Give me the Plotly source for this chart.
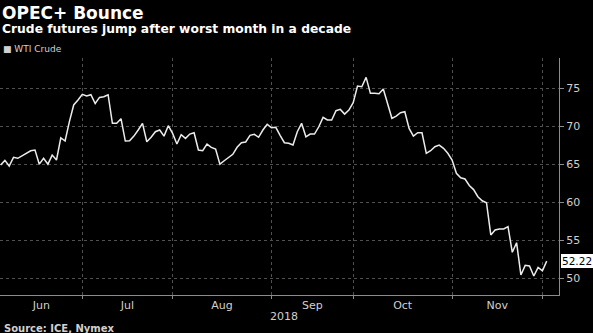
import pandas as pd
import plotly.graph_objects as go

# Trading days (NYMEX) June 4 - Dec 3, 2018
holidays = ["2018-07-04", "2018-09-03", "2018-11-22"]
dates = [d for d in pd.bdate_range("2018-06-04", "2018-12-03") if d.strftime("%Y-%m-%d") not in holidays]

wti = [64.89, 65.50, 64.76, 65.90, 65.77, 66.07, 66.40, 66.77, 66.86, 65.00,
       65.77, 65.00, 66.20, 65.55, 68.48, 68.05, 70.60, 72.80, 73.45, 74.20,
       73.98, 74.15, 73.00, 73.80, 73.89, 74.15, 70.38, 70.38, 70.99, 68.05,
       68.09, 68.70, 69.50, 70.38, 67.96, 68.54, 69.28, 69.50, 68.70, 70.07,
       69.06, 67.65, 68.88, 68.40, 68.97, 69.14, 66.86, 66.77, 67.65, 67.22,
       66.99, 65.00, 65.45, 65.90, 66.30, 67.22, 67.83, 67.92, 68.80, 68.93,
       68.54, 69.50, 70.25, 69.80, 69.85, 68.80, 67.83, 67.75, 67.52, 69.28,
       70.38, 68.60, 68.97, 68.97, 69.93, 71.17, 70.82, 70.82, 72.04, 72.22,
       71.60, 72.13, 73.10, 75.30, 75.20, 76.44, 74.33, 74.33, 74.28, 74.90,
       72.92, 71.04, 71.34, 71.78, 71.91, 69.72, 68.71, 69.14, 69.14, 66.43,
       66.77, 67.30, 67.52, 67.09, 66.43, 65.55, 63.79, 63.20, 63.05, 62.20,
       61.65, 60.71, 60.18, 59.92, 55.67, 56.32, 56.46, 56.46, 56.76, 53.39,
       54.65, 50.40, 51.67, 51.58, 50.26, 51.41, 50.96, 52.22]

month_labels = ["Jun", "Jul", "Aug", "Sep", "Oct", "Nov"]
y_ticks = [50, 55, 60, 65, 70, 75]
series_name = "WTI Crude"
last_label = "52.22"

idx = list(range(len(dates)))
months = [d.month for d in dates]
# last trading day of each month (gridlines)
month_ends = [i for i in idx[:-1] if months[i] != months[i + 1]]
bounds = [0] + month_ends
month_centers = [(bounds[k] + bounds[k + 1]) / 2 for k in range(len(bounds) - 1)]

FONT = "DejaVu Sans"
GRID = "#505050"
AXIS = "#8c8c8c"
TXT = "#d0d0d0"

fig = go.Figure()
fig.add_trace(go.Scatter(x=idx, y=wti, mode="lines", name=series_name,
                         line=dict(color="#ececec", width=1.5), showlegend=False))
# invisible trace on xaxis2 to activate gridline axis
fig.add_trace(go.Scatter(x=idx, y=wti, xaxis="x2", mode="lines",
                         line=dict(color="rgba(0,0,0,0)", width=0), showlegend=False, hoverinfo="skip"))

xr = [-0.14, 129.86]
fig.update_layout(
    width=593, height=333,
    paper_bgcolor="black", plot_bgcolor="black",
    margin=dict(l=0, r=34, t=58, b=38),
    font=dict(family=FONT, color=TXT, size=11),
    xaxis=dict(range=xr, tickvals=month_centers, ticktext=month_labels,
               showgrid=False, ticks="", zeroline=False, showline=True,
               linecolor=AXIS, linewidth=1, tickfont=dict(size=11, color=TXT)),
    xaxis2=dict(range=xr, overlaying="x", side="bottom", tickvals=month_ends,
                ticktext=["" for _ in month_ends], showgrid=True, gridcolor=GRID,
                griddash="dot", gridwidth=1, ticks="outside", ticklen=3,
                tickcolor=AXIS, zeroline=False, showline=False),
    yaxis=dict(range=[47.76, 78.99], side="right", tickvals=y_ticks,
               showgrid=True, gridcolor=GRID, griddash="dot", gridwidth=1,
               ticks="outside", ticklen=4, tickcolor=AXIS, showline=True,
               linecolor=AXIS, linewidth=1, zeroline=False,
               tickfont=dict(size=11, color=TXT)),
    showlegend=False,
)

fig.add_annotation(text="<b>OPEC+ Bounce</b>", xref="paper", yref="paper",
                   x=0, y=1, xanchor="left", yanchor="top", yshift=58 - 1,
                   showarrow=False, font=dict(size=17, color="white", family=FONT))
fig.add_annotation(text="<b>Crude futures jump after worst month in a decade</b>",
                   xref="paper", yref="paper", x=0, y=1, xanchor="left", yanchor="top",
                   yshift=58 - 20, showarrow=False,
                   font=dict(size=12.3, color="white", family=FONT))
fig.add_annotation(text="■ " + series_name, xref="paper", yref="paper", x=0, y=1,
                   xanchor="left", yanchor="top", yshift=58 - 42, xshift=1,
                   showarrow=False, font=dict(size=9, color=TXT, family=FONT))
fig.add_annotation(text="2018", xref="x", yref="paper", x=month_ends[2] + 3, y=0,
                   xanchor="center", yanchor="top", yshift=-13, showarrow=False,
                   font=dict(size=11, color=TXT, family=FONT))
fig.add_annotation(text="<b>Source: ICE, Nymex</b>", xref="paper", yref="paper",
                   x=0, y=0, xanchor="left", yanchor="top", yshift=-26, xshift=2,
                   showarrow=False, font=dict(size=10, color=TXT, family=FONT))
fig.add_annotation(text=last_label, xref="paper", yref="y", x=1, y=wti[-1],
                   xanchor="left", yanchor="middle", xshift=2, showarrow=False,
                   bgcolor="white", bordercolor="white", borderpad=0,
                   font=dict(size=10.5, color="black", family=FONT))

fig.write_html("out.html")
